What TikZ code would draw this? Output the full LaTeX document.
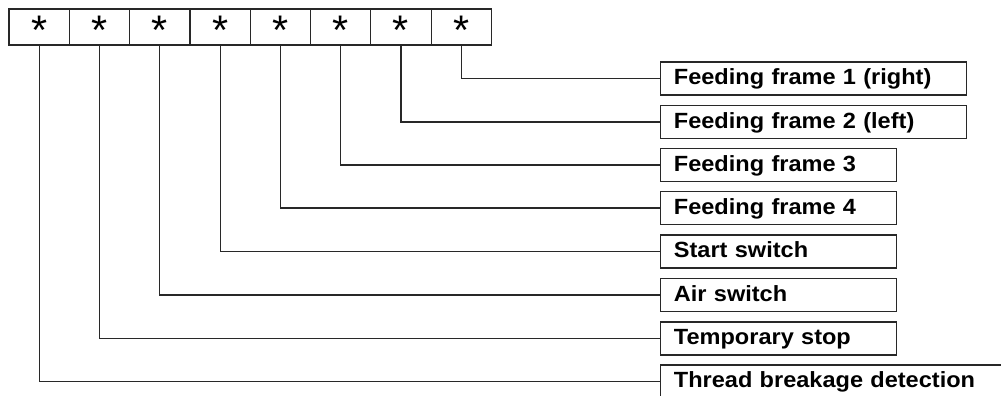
\documentclass[tikz,border=0pt]{standalone}
\usepackage{fontspec}
\setmainfont{Liberation Sans}
\newfontfamily\lblfont{Liberation Sans}[FakeStretch=1.07]
\usetikzlibrary{positioning}
\definecolor{edgegray}{RGB}{40, 40, 40}

\begin{document}
\begin{tikzpicture}[
    x=0.75pt, y=-0.75pt,
    cell/.style={rectangle, draw=edgegray, line width=0.9pt, minimum width=60.3*0.75pt, minimum height=27pt, inner sep=0pt, text height=27pt, text depth=0pt, font=\fontsize{31}{33}\selectfont},
    lbl/.style={rectangle, draw=edgegray, line width=0.9pt, anchor=west, inner xsep=10pt, inner ysep=0pt, text height=17pt, text depth=7.75pt, align=left, font=\lblfont\bfseries\fontsize{16.5}{18}\selectfont, text=black},
    wide/.style={lbl, text width=306*0.75pt-20pt},
    narrow/.style={lbl, text width=236*0.75pt-20pt},
    wire/.style={draw=edgegray, line width=0.9pt}
]
  \clip (0,0) rectangle (1001,396);

  % register cells
  \node[cell] (c1) at (39.2, 27) {*};
  \node[cell] (c2) at (99.5, 27) {*};
  \node[cell] (c3) at (159.8, 27) {*};
  \node[cell] (c4) at (220.1, 27) {*};
  \node[cell] (c5) at (280.4, 27) {*};
  \node[cell] (c6) at (340.7, 27) {*};
  \node[cell] (c7) at (401.0, 27) {*};
  \node[cell] (c8) at (461.3, 27) {*};

  % signal boxes
  \node[wide] (b1) at (660, 78.5) {Feeding frame 1 (right)};
  \node[wide] (b2) at (660, 122) {Feeding frame 2 (left)};
  \node[narrow] (b3) at (660, 165) {Feeding frame 3};
  \node[narrow] (b4) at (660, 208) {Feeding frame 4};
  \node[narrow] (b5) at (660, 251.5) {Start switch};
  \node[narrow] (b6) at (660, 295) {Air switch};
  \node[narrow] (b7) at (660, 338.5) {Temporary stop};
  \node[lbl, text width=360*0.75pt-20pt] (b8) at (660, 381.5) {Thread breakage detection};

  % wires
  \draw[wire] (c8.south) |- (b1.west);
  \draw[wire] (c7.south) |- (b2.west);
  \draw[wire] (c6.south) |- (b3.west);
  \draw[wire] (c5.south) |- (b4.west);
  \draw[wire] (c4.south) |- (b5.west);
  \draw[wire] (c3.south) |- (b6.west);
  \draw[wire] (c2.south) |- (b7.west);
  \draw[wire] (c1.south) |- (b8.west);
\end{tikzpicture}
\end{document}
